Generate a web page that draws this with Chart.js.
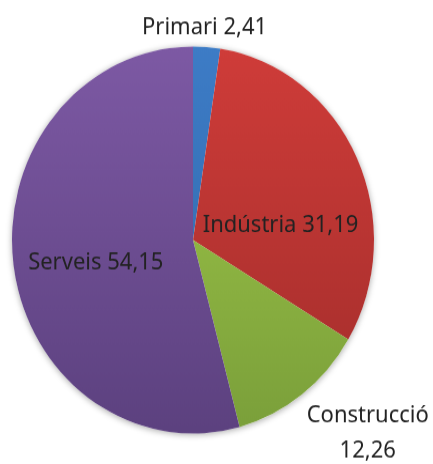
<!DOCTYPE html>
<html lang="ca">
<head>
    <meta charset="UTF-8">
    <title>Sectors</title>
    <script src="https://cdn.jsdelivr.net/npm/chart.js@4.4.0/dist/chart.umd.min.js"></script>
    <style>
        html, body { margin: 0; padding: 0; background: #fff; overflow: hidden; width: 433px; height: 464px; }
        #wrap { width: 433px; height: 434px; transform: scaleY(1.069); transform-origin: 0 0; }
        canvas { display: block; }
    </style>
</head>
<body>
    <div id="wrap"><canvas id="chart" width="433" height="434"></canvas></div>
    <script>
        const sectors = ['Primari', 'Indústria', 'Construcció', 'Serveis'];
        const shares = [2.41, 31.19, 12.26, 54.15];
        const valueLabels = ['2,41', '31,19', '12,26', '54,15'];
        const topColors = ['#3d7cc6', '#cf3c39', '#a2ca4a', '#7d59a4'];
        const bottomColors = ['#3066a8', '#a22d2b', '#7a9f3a', '#5c417f'];
        // where each label sits: angle offset (deg) from slice middle, distance in radii
        const labelAngle = [-1, 16, -7, -5];
        const labelDist = [1.10, 0.49, 1.39, 0.55];
        const labelTwoLines = [false, false, true, false];

        function sliceFill(context) {
            const chart = context.chart;
            const area = chart.chartArea;
            if (!area) return topColors[context.dataIndex];
            const g = chart.ctx.createLinearGradient(0, area.top, 0, area.bottom);
            g.addColorStop(0, topColors[context.dataIndex]);
            g.addColorStop(1, bottomColors[context.dataIndex]);
            return g;
        }

        const sliceLabels = {
            id: 'sliceLabels',
            afterDatasetsDraw(chart) {
                const ctx = chart.ctx;
                const arcs = chart.getDatasetMeta(0).data;
                ctx.save();
                ctx.font = '22px "Noto Sans"';
                ctx.fillStyle = '#222';
                ctx.textAlign = 'center';
                ctx.textBaseline = 'middle';
                arcs.forEach((arc, i) => {
                    const mid = (arc.startAngle + arc.endAngle) / 2 + labelAngle[i] * Math.PI / 180;
                    const r = arc.outerRadius * labelDist[i];
                    const x = arc.x + Math.cos(mid) * r;
                    const y = arc.y + Math.sin(mid) * r;
                    if (labelTwoLines[i]) {
                        ctx.fillText(sectors[i], x, y - 16.5);
                        ctx.fillText(valueLabels[i], x, y + 16.5);
                    } else {
                        ctx.fillText(sectors[i] + ' ' + valueLabels[i], x, y);
                    }
                });
                ctx.restore();
            }
        };

        const pieShadow = {
            id: 'pieShadow',
            beforeDatasetsDraw(chart) {
                const arc = chart.getDatasetMeta(0).data[0];
                const ctx = chart.ctx;
                ctx.save();
                ctx.shadowColor = 'rgba(0,0,0,0.35)';
                ctx.shadowBlur = 6;
                ctx.shadowOffsetY = 1;
                ctx.fillStyle = '#fff';
                ctx.beginPath();
                ctx.arc(arc.x, arc.y, arc.outerRadius, 0, Math.PI * 2);
                ctx.fill();
                ctx.restore();
            }
        };

        new Chart(document.getElementById('chart'), {
            type: 'pie',
            data: {
                labels: sectors,
                datasets: [{
                    data: shares,
                    backgroundColor: sliceFill,
                    borderWidth: 0
                }]
            },
            options: {
                responsive: false,
                animation: false,
                layout: { padding: { left: 12, right: 59, top: 43.5, bottom: 28.5 } },
                plugins: {
                    legend: { display: false },
                    tooltip: { enabled: false }
                }
            },
            plugins: [pieShadow, sliceLabels]
        });
    </script>
</body>
</html>
